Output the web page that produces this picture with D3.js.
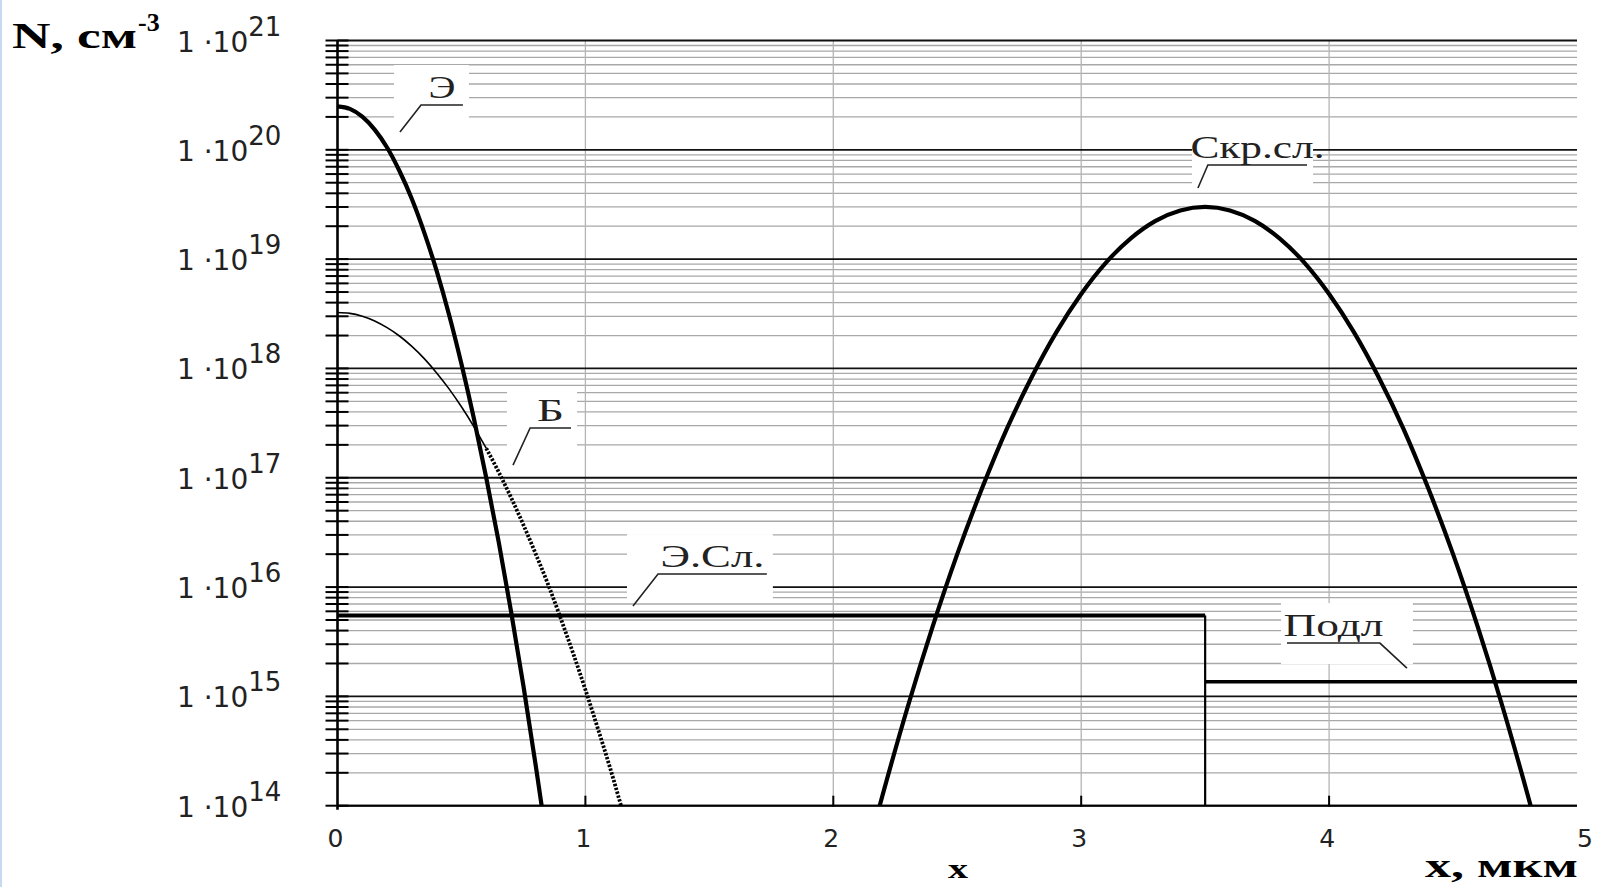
<!DOCTYPE html>
<html>
<head>
<meta charset="utf-8">
<script src="https://cdn.jsdelivr.net/npm/d3@7"></script>
<style>
  body { margin: 0; background: #fff; }
  svg { display: block; }
</style>
</head>
<body>
<svg width="1600" height="887"></svg>
<script>
(function() {
  // --- data (x in мкм, N in см^-3) ---
  var emitterX = [0, 0.05, 0.1, 0.15, 0.2, 0.25, 0.3, 0.35, 0.4, 0.45, 0.5, 0.55, 0.6, 0.65, 0.7, 0.75, 0.8, 0.85];
  var emitterN = [2.5e20, 2.37e20, 2.01e20, 1.53e20, 1.05e20, 6.4e19, 3.55e19, 1.75e19, 7.8e18, 3.1e18, 1.1e18, 3.5e17, 1.0e17, 2.6e16, 6.0e15, 1.25e15, 2.3e14, 3.9e13];

  var baseX = [0, 0.05, 0.1, 0.15, 0.2, 0.25, 0.3, 0.35, 0.4, 0.45, 0.5, 0.55, 0.6, 0.65, 0.7, 0.75, 0.8, 0.85, 0.9, 0.95, 1.0, 1.05, 1.1, 1.15];
  var baseN = [3.25e18, 3.19e18, 3.0e18, 2.72e18, 2.36e18, 1.98e18, 1.59e18, 1.23e18, 9.1e17, 6.5e17, 4.46e17, 2.94e17, 1.86e17, 1.13e17, 6.6e16, 3.7e16, 2.0e16, 1.05e16, 5.2e15, 2.5e15, 1.15e15, 5.1e14, 2.2e14, 8.9e13];
  var baseDottedFrom = 0.6;

  var buriedX = [2.15, 2.2, 2.3, 2.4, 2.5, 2.6, 2.7, 2.8, 2.9, 3.0, 3.1, 3.2, 3.3, 3.4, 3.5, 3.6, 3.7, 3.8, 3.9, 4.0, 4.1, 4.2, 4.3, 4.4, 4.5, 4.6, 4.7, 4.8, 4.85];
  var buriedN = [4.9e13, 1.28e14, 8.0e14, 4.3e15, 2.0e16, 8.0e16, 2.8e17, 8.3e17, 2.15e18, 4.8e18, 9.3e18, 1.55e19, 2.24e19, 2.79e19, 3.0e19, 2.79e19, 2.24e19, 1.55e19, 9.3e18, 4.8e18, 2.15e18, 8.3e17, 2.8e17, 8.0e16, 2.0e16, 4.3e15, 8.0e14, 1.28e14, 4.9e13];

  var epiX = [0, 3.5];
  var epiN = [5.5e15, 5.5e15];
  var subX = [3.5, 5];
  var subN = [1.36e15, 1.36e15];

  var xTicks = [0, 1, 2, 3, 4, 5];
  var yExponents = [14, 15, 16, 17, 18, 19, 20, 21];

  // curve labels: text, leader tip (x, log10 N), elbow (x, log10 N), far end of underline x
  var labels = [
    { text: "Э",       tip: [0.252, 20.163], elbow: [0.337, 20.410], end: 0.506 },
    { text: "Б",       tip: [0.708, 17.116], elbow: [0.777, 17.455], end: 0.942 },
    { text: "Э.Сл.",   tip: [1.192, 15.826], elbow: [1.293, 16.119], end: 1.732 },
    { text: "Скр.сл.", tip: [3.471, 19.651], elbow: [3.511, 19.861], end: 3.911 },
    { text: "Подл",    tip: [4.314, 15.259], elbow: [4.205, 15.488], end: 3.830 }
  ];
  var labelWidths = { "Э": 27, "Б": 27, "Э.Сл.": 104, "Скр.сл.": 134, "Подл": 100 };

  // --- layout ---
  var svg = d3.select('svg');
  var left = 337.5, right = 1577, top = 40.5, bottom = 805.7;
  var x = d3.scaleLinear().domain([0, 5]).range([left, right]);
  var y = d3.scaleLog().domain([1e14, 1e21]).range([bottom, top]);
  var serif = '"Liberation Serif", "Times New Roman", serif';
  var sans = '"DejaVu Sans", sans-serif';

  // light blue edge of the slide
  svg.append('rect').attr('x', 0).attr('y', 0).attr('width', 2).attr('height', 887).attr('fill', '#c6d9f1');

  // grid
  var minorVals = [];
  var majorVals = [];
  yExponents.forEach(function(e) {
    majorVals.push(Math.pow(10, e));
    if (e < 21) {
      for (var k = 2; k <= 9; k++) minorVals.push(k * Math.pow(10, e));
    }
  });

  var grid = svg.append('g');
  grid.selectAll('.minor').data(minorVals).enter().append('line')
    .attr('x1', left).attr('x2', right)
    .attr('y1', function(d) { return y(d); }).attr('y2', function(d) { return y(d); })
    .attr('stroke', '#a8a8a8').attr('stroke-width', 1.3);
  grid.selectAll('.vert').data(xTicks.filter(function(d) { return d > 0 && d < 5; })).enter().append('line')
    .attr('x1', function(d) { return x(d); }).attr('x2', function(d) { return x(d); })
    .attr('y1', top).attr('y2', bottom)
    .attr('stroke', '#b4b4b4').attr('stroke-width', 1.3);
  grid.selectAll('.major').data(majorVals).enter().append('line')
    .attr('x1', left).attr('x2', right)
    .attr('y1', function(d) { return y(d); }).attr('y2', function(d) { return y(d); })
    .attr('stroke', '#111').attr('stroke-width', 1.8);

  // white boxes behind curve labels
  labels.forEach(function(l) {
    var xs = [x(l.tip[0]), x(l.elbow[0]), x(l.end)];
    var ly = y(Math.pow(10, l.elbow[1]));
    var ty = y(Math.pow(10, l.tip[1]));
    var x0 = d3.min(xs) - 6, x1 = d3.max(xs) + 6;
    svg.append('rect')
      .attr('x', x0).attr('y', ly - 40)
      .attr('width', x1 - x0).attr('height', ty - (ly - 40) - 4)
      .attr('fill', '#fff');
  });

  // axes
  var ax = svg.append('g');
  ax.append('line').attr('x1', left).attr('x2', right).attr('y1', bottom).attr('y2', bottom)
    .attr('stroke', '#000').attr('stroke-width', 2);
  ax.append('line').attr('x1', left).attr('x2', left).attr('y1', top).attr('y2', bottom + 4)
    .attr('stroke', '#000').attr('stroke-width', 2.6);
  ax.selectAll('.ytick').data(majorVals.concat(minorVals)).enter().append('line')
    .attr('x1', left - 12).attr('x2', left + 11)
    .attr('y1', function(d) { return y(d); }).attr('y2', function(d) { return y(d); })
    .attr('stroke', '#000').attr('stroke-width', 2);
  ax.selectAll('.xtick').data(xTicks.filter(function(d) { return d > 0 && d < 5; })).enter().append('line')
    .attr('x1', function(d) { return x(d); }).attr('x2', function(d) { return x(d); })
    .attr('y1', bottom - 10).attr('y2', bottom + 1)
    .attr('stroke', '#000').attr('stroke-width', 2);

  ax.selectAll('.xlab').data(xTicks).enter().append('text')
    .attr('x', function(d) { return x(d) + (d === 5 ? 8 : -2); })
    .attr('y', 847)
    .attr('text-anchor', 'middle')
    .style('font-family', sans).style('font-size', '25px').style('fill', '#222')
    .text(function(d) { return d; });

  var ylab = ax.selectAll('.ylab').data(yExponents).enter().append('text')
    .attr('x', 177)
    .attr('y', function(e) { return y(Math.pow(10, e)) + 11; })
    .style('font-family', sans).style('font-size', '28px').style('fill', '#222');
  ylab.append('tspan').text('1 \u00b710');
  ylab.append('tspan').attr('dy', -16).style('font-size', '26px').text(function(e) { return e; });

  // axis titles
  svg.append('text').attr('x', 12).attr('y', 48)
    .attr('textLength', 125).attr('lengthAdjust', 'spacingAndGlyphs')
    .style('font-family', serif).style('font-weight', 'bold').style('font-size', '35px')
    .text('N, см');
  svg.append('text').attr('x', 138).attr('y', 31)
    .style('font-family', serif).style('font-weight', 'bold').style('font-size', '26px')
    .text('-3');
  svg.append('text').attr('x', 948).attr('y', 878)
    .attr('textLength', 20).attr('lengthAdjust', 'spacingAndGlyphs')
    .style('font-family', serif).style('font-weight', 'bold').style('font-size', '28px')
    .text('x');
  svg.append('text').attr('x', 1425).attr('y', 877)
    .attr('textLength', 153).attr('lengthAdjust', 'spacingAndGlyphs')
    .style('font-family', serif).style('font-weight', 'bold').style('font-size', '34px')
    .text('x, мкм');

  // curves
  svg.append('clipPath').attr('id', 'plot').append('rect')
    .attr('x', left).attr('y', top - 5).attr('width', right - left + 2).attr('height', bottom - top + 5);
  var curves = svg.append('g').attr('clip-path', 'url(#plot)');

  function pairs(xs, ns) {
    return xs.map(function(v, i) { return [v, ns[i]]; });
  }
  var line = d3.line()
    .x(function(d) { return x(d[0]); })
    .y(function(d) { return y(d[1]); })
    .curve(d3.curveMonotoneX);

  var basePts = pairs(baseX, baseN);
  curves.append('path').datum(basePts.filter(function(d) { return d[0] <= baseDottedFrom; }))
    .attr('d', line).attr('fill', 'none').attr('stroke', '#000').attr('stroke-width', 1.6);
  curves.append('path').datum(basePts.filter(function(d) { return d[0] >= baseDottedFrom; }))
    .attr('d', line).attr('fill', 'none').attr('stroke', '#000').attr('stroke-width', 3.8)
    .attr('stroke-dasharray', '2.4 1.6');

  curves.append('path').datum(pairs(emitterX, emitterN))
    .attr('d', line).attr('fill', 'none').attr('stroke', '#000').attr('stroke-width', 4.2);

  curves.append('path').datum(pairs(buriedX, buriedN))
    .attr('d', line).attr('fill', 'none').attr('stroke', '#000').attr('stroke-width', 4.2);

  curves.append('path').datum(pairs(epiX, epiN))
    .attr('d', line).attr('fill', 'none').attr('stroke', '#000').attr('stroke-width', 4);
  curves.append('line')
    .attr('x1', x(epiX[1])).attr('x2', x(epiX[1]))
    .attr('y1', y(epiN[1])).attr('y2', bottom)
    .attr('stroke', '#000').attr('stroke-width', 2.2);

  curves.append('path').datum(pairs(subX, subN))
    .attr('d', line).attr('fill', 'none').attr('stroke', '#000').attr('stroke-width', 3.6);

  // curve labels with leader lines
  labels.forEach(function(l) {
    var ex = x(l.elbow[0]), ey = y(Math.pow(10, l.elbow[1]));
    var fx = x(l.end);
    svg.append('polyline')
      .attr('points', [[x(l.tip[0]), y(Math.pow(10, l.tip[1]))], [ex, ey], [fx, ey]].join(' '))
      .attr('fill', 'none').attr('stroke', '#222').attr('stroke-width', 1.6);
    var w = labelWidths[l.text];
    svg.append('text')
      .attr('x', (ex + fx) / 2 - w / 2)
      .attr('y', ey - 7)
      .attr('textLength', w).attr('lengthAdjust', 'spacingAndGlyphs')
      .style('font-family', serif).style('font-size', '31px').style('fill', '#222')
      .text(l.text);
  });
})();
</script>
</body>
</html>
